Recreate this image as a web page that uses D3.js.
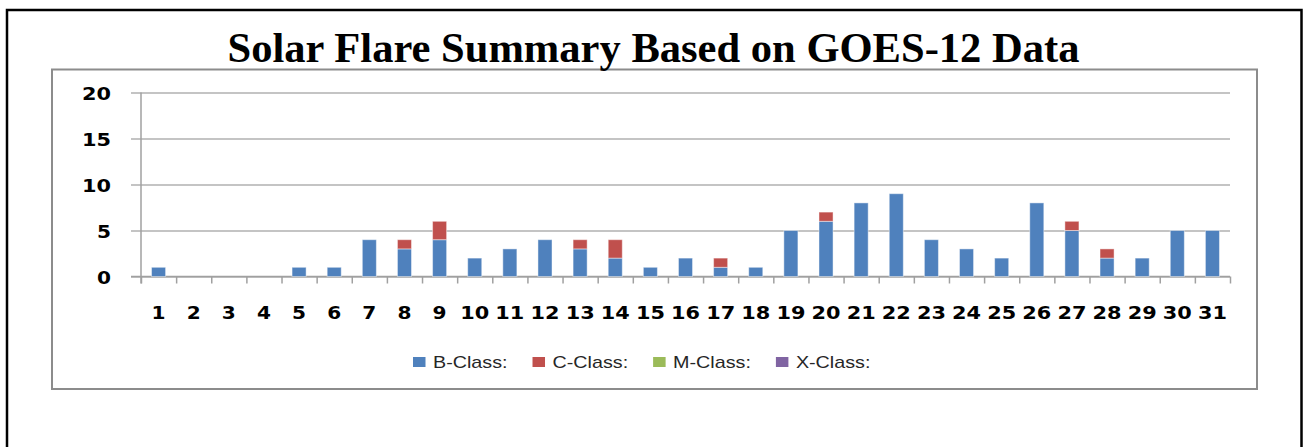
<!DOCTYPE html>
<html>
<head>
<meta charset="utf-8">
<script src="https://cdn.jsdelivr.net/npm/d3@7"></script>
<style>
  html, body { margin: 0; padding: 0; background: #fff; }
  svg { display: block; }
</style>
</head>
<body>
<script>
const width = 1309;
const height = 447;

// data
const days = d3.range(1, 32).map(String);
const bClass = [1, 0, 0, 0, 1, 1, 4, 3, 4, 2, 3, 4, 3, 2, 1, 2, 1, 1, 5, 6, 8, 9, 4, 3, 2, 8, 5, 2, 2, 5, 5];
const cClass = [0, 0, 0, 0, 0, 0, 0, 1, 2, 0, 0, 0, 1, 2, 0, 0, 1, 0, 0, 1, 0, 0, 0, 0, 0, 0, 1, 1, 0, 0, 0];
const mClass = days.map(() => 0);
const xClass = days.map(() => 0);
const seriesNames = ['B-Class:', 'C-Class:', 'M-Class:', 'X-Class:'];
const yTicks = [0, 5, 10, 15, 20];
const title = 'Solar Flare Summary Based on GOES-12 Data';

const colors = ['#4f81bd', '#c0504d', '#9bbb59', '#8064a2'];

const plot = { left: 141, right: 1230, top: 92.5, bottom: 276.5 };

const svg = d3.select('body')
  .append('svg')
    .attr('viewBox', [0, 0, width, height].join(' '))
    .attr('width', width)
    .attr('height', height);

// page border and chart frame
svg.append('rect')
  .attr('x', 7).attr('y', 10)
  .attr('width', 1294.5).attr('height', 460)
  .attr('fill', 'none')
  .attr('stroke', '#000')
  .attr('stroke-width', 2.5);

svg.append('rect')
  .attr('x', 52).attr('y', 69.5)
  .attr('width', 1205).attr('height', 319.5)
  .attr('fill', '#fff')
  .attr('stroke', '#8c8c8c')
  .attr('stroke-width', 2);

svg.append('text')
  .attr('x', 653.5)
  .attr('y', 61.5)
  .attr('text-anchor', 'middle')
  .attr('font-family', '"Liberation Serif", "Times New Roman", serif')
  .attr('font-weight', 'bold')
  .attr('font-size', 43)
  .attr('textLength', 852)
  .attr('lengthAdjust', 'spacingAndGlyphs')
  .text(title);

const table = days.map((d, i) => ({
  day: d,
  [seriesNames[0]]: bClass[i],
  [seriesNames[1]]: cClass[i],
  [seriesNames[2]]: mClass[i],
  [seriesNames[3]]: xClass[i],
}));

const stack = d3.stack().keys(seriesNames)(table);

const x = d3.scaleBand()
  .domain(days)
  .range([plot.left, plot.right])
  .paddingInner(0.6)
  .paddingOuter(0.3);

const xEdge = d3.scaleLinear()
  .domain([0, days.length])
  .range([plot.left, plot.right]);

const y = d3.scaleLinear()
  .domain([0, 20])
  .range([plot.bottom, plot.top]);

const digits = (sel) => sel
  .attr('font-family', '"DejaVu Sans", Verdana, sans-serif')
  .attr('font-weight', 'bold')
  .attr('font-size', 18.5)
  .attr('fill', '#000')
  .attr('textLength', (d) => String(d).length * 15 - 1)
  .attr('lengthAdjust', 'spacingAndGlyphs');

// y axis with gridlines
const yAxis = d3.axisLeft(y)
  .tickValues(yTicks)
  .tickSizeInner(-(plot.right - plot.left))
  .tickSizeOuter(0)
  .tickPadding(30);

const gy = svg.append('g')
  .attr('transform', `translate(${plot.left}, 0)`)
  .call(yAxis);

gy.select('.domain').remove();
gy.selectAll('.tick line')
  .attr('x1', -10)
  .attr('stroke', '#b0b0b0')
  .attr('stroke-width', 1.5);
gy.selectAll('.tick text')
  .attr('dy', '0.36em')
  .call(digits);

svg.append('line')
  .attr('x1', plot.left).attr('x2', plot.left)
  .attr('y1', plot.top).attr('y2', plot.bottom + 7)
  .attr('stroke', '#a0a0a0')
  .attr('stroke-width', 1.5);

// category separators
const xTicks = d3.axisBottom(xEdge)
  .tickValues(d3.range(0, days.length + 1))
  .tickSize(7)
  .tickFormat('');

const gt = svg.append('g')
  .attr('transform', `translate(0, ${plot.bottom})`)
  .call(xTicks);

gt.select('.domain').remove();
gt.selectAll('.tick line')
  .attr('stroke', '#a0a0a0')
  .attr('stroke-width', 1.5);

svg.append('line')
  .attr('x1', plot.left - 10).attr('x2', plot.right)
  .attr('y1', plot.bottom).attr('y2', plot.bottom)
  .attr('stroke', '#a0a0a0')
  .attr('stroke-width', 1.5);

// category labels
const xAxis = d3.axisBottom(x)
  .tickSize(0)
  .tickPadding(0);

const gx = svg.append('g')
  .attr('transform', `translate(0, ${plot.bottom})`)
  .call(xAxis);

gx.select('.domain').remove();
gx.selectAll('.tick text')
  .attr('y', 42.5)
  .attr('dy', 0)
  .call(digits);

// stacked bars
const layers = svg.selectAll('.layer')
  .data(stack)
  .enter()
    .append('g')
    .attr('class', 'layer')
    .attr('fill', (d, i) => colors[i]);

layers.selectAll('rect')
  .data((d) => d.filter((v) => v[1] > v[0]))
  .enter()
    .append('rect')
    .attr('x', (d) => x(d.data.day))
    .attr('y', (d) => y(d[1]))
    .attr('width', x.bandwidth())
    .attr('height', (d) => y(d[0]) - y(d[1]))
    .attr('stroke', 'rgba(255,255,255,0.45)')
    .attr('stroke-width', 1);

// legend
const legend = svg.append('g')
  .attr('transform', 'translate(413, 0)');

let lx = 0;
seriesNames.forEach((name, i) => {
  const item = legend.append('g')
    .attr('transform', `translate(${lx}, 0)`);

  item.append('rect')
    .attr('x', 0).attr('y', 357)
    .attr('width', 12.5).attr('height', 10)
    .attr('fill', colors[i]);

  const t = item.append('text')
    .attr('x', 20)
    .attr('y', 367.5)
    .attr('font-family', '"Liberation Sans", Arial, sans-serif')
    .attr('font-size', 17)
    .attr('fill', '#262626')
    .text(name);

  const w = t.node().getComputedTextLength() * 1.16;
  t.attr('textLength', w).attr('lengthAdjust', 'spacingAndGlyphs');

  lx += 20 + w + 25;
});
</script>
</body>
</html>
